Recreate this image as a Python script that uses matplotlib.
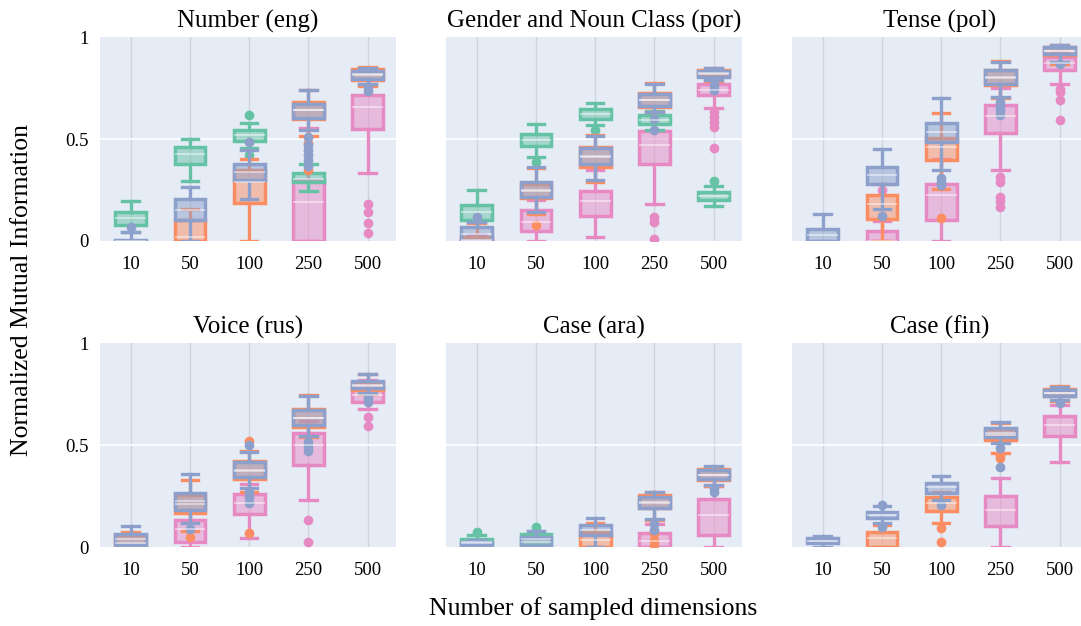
import matplotlib
matplotlib.use("Agg")
import matplotlib.pyplot as plt

plt.rcParams['font.family'] = ['Liberation Serif', 'DejaVu Serif']

CATEGORIES = ["10", "50", "100", "250", "500"]
TITLES = ["Number (eng)", "Gender and Noun Class (por)", "Tense (pol)",
          "Voice (rus)", "Case (ara)", "Case (fin)"]
YTICKS = [0, 0.5, 1]
YTICKLABELS = ["0", "0.5", "1"]

GREEN, ORANGE, BLUE, PINK = "#66c2a5", "#fc8d62", "#8da0cb", "#e78ac3"

# each entry: (whisker_low, q1, median, q3, whisker_high, outliers) or None
ENG_GREEN = [(0.045, 0.077, 0.113, 0.142, 0.196, []),
             (0.294, 0.379, 0.425, 0.461, 0.498, []),
             (0.455, 0.49, 0.518, 0.546, 0.578, [0.616, 0.42]),
             (0.245, 0.29, 0.305, 0.333, 0.379, []),
             None]
ENG_ORANGE = [None,
              (0.0, 0.0, 0.02, 0.105, 0.158, []),
              (0.0, 0.186, 0.29, 0.346, 0.40, []),
              (0.516, 0.598, 0.64, 0.68, 0.74, [0.48, 0.346]),
              (0.76, 0.788, 0.82, 0.845, 0.855, [])]
ENG_BLUE = [(0.0, 0.0, 0.0, 0.005, 0.045, [0.07]),
            (0.0, 0.105, 0.154, 0.204, 0.265, []),
            (0.204, 0.297, 0.338, 0.376, 0.444, [0.485]),
            (0.546, 0.605, 0.64, 0.673, 0.739, [0.51, 0.47, 0.444, 0.42, 0.395, 0.37]),
            (0.771, 0.796, 0.815, 0.833, 0.85, [0.755, 0.735])]
ENG_PINK = [None, None, None,
            (0.0, 0.0, 0.19, 0.30, 0.555, []),
            (0.333, 0.547, 0.657, 0.714, 0.77, [0.183, 0.142, 0.088, 0.041])]

POR_GREEN = [(0.093, 0.105, 0.142, 0.175, 0.248, []),
             (0.412, 0.466, 0.494, 0.523, 0.575, [0.387]),
             (0.567, 0.596, 0.624, 0.645, 0.676, [0.542]),
             (0.546, 0.572, 0.595, 0.616, 0.637, []),
             (0.172, 0.2, 0.221, 0.24, 0.268, [0.292])]
POR_ORANGE = [(0.0, 0.0, 0.005, 0.02, 0.09, []),
              (0.13, 0.21, 0.245, 0.28, 0.36, [0.077]),
              (0.289, 0.363, 0.41, 0.46, 0.52, []),
              (0.63, 0.657, 0.69, 0.725, 0.775, []),
              (0.785, 0.81, 0.822, 0.838, 0.85, [])]
POR_BLUE = [(0.0, 0.0, 0.036, 0.069, 0.093, [0.118]),
            (0.142, 0.216, 0.252, 0.289, 0.363, []),
            (0.297, 0.376, 0.415, 0.456, 0.513, []),
            (0.632, 0.66, 0.693, 0.722, 0.771, [0.6, 0.542]),
            (0.788, 0.804, 0.82, 0.833, 0.85, [0.763, 0.74])]
POR_PINK = [(0.0, 0.0, 0.0, 0.01, 0.03, []),
            (0.0, 0.049, 0.093, 0.150, 0.2, []),
            (0.02, 0.121, 0.196, 0.245, 0.35, []),
            (0.183, 0.376, 0.472, 0.538, 0.62, [0.118, 0.093, 0.011]),
            (0.654, 0.714, 0.742, 0.771, 0.8, [0.632, 0.608, 0.583, 0.559, 0.458])]

POL_GREEN = [None, None, None, None, None]
POL_ORANGE = [None,
              (0.0, 0.109, 0.183, 0.224, 0.28, []),
              (0.256, 0.399, 0.461, 0.507, 0.627, [0.113]),
              (0.7, 0.766, 0.80, 0.84, 0.88, []),
              (0.87, 0.91, 0.93, 0.95, 0.96, [])]
POL_BLUE = [(0.0, 0.0, 0.028, 0.057, 0.134, []),
            (0.158, 0.281, 0.322, 0.363, 0.449, [0.121]),
            (0.346, 0.485, 0.534, 0.58, 0.701, [0.31, 0.289, 0.273]),
            (0.706, 0.771, 0.804, 0.837, 0.877, [0.68, 0.66, 0.64, 0.62]),
            (0.877, 0.915, 0.931, 0.951, 0.959, [0.87])]
POL_PINK = [None,
            (0.0, 0.0, 0.0, 0.049, 0.1, [0.248]),
            (0.0, 0.101, 0.224, 0.278, 0.4, []),
            (0.346, 0.529, 0.611, 0.665, 0.75, [0.314, 0.289, 0.216, 0.196, 0.167]),
            (0.771, 0.84, 0.874, 0.902, 0.93, [0.747, 0.73, 0.69, 0.592])]

RUS_GREEN = [None, None, None, None, None]
RUS_ORANGE = [(0.0, 0.0, 0.02, 0.06, 0.075, []),
              (0.08, 0.165, 0.21, 0.255, 0.328, [0.047]),
              (0.27, 0.332, 0.375, 0.42, 0.47, [0.521, 0.067]),
              (0.54, 0.59, 0.63, 0.675, 0.745, []),
              (0.75, 0.77, 0.79, 0.81, 0.85, [])]
RUS_BLUE = [(0.0, 0.01, 0.038, 0.064, 0.103, []),
            (0.116, 0.181, 0.227, 0.263, 0.358, [0.088]),
            (0.288, 0.345, 0.377, 0.415, 0.464, [0.5, 0.271, 0.247, 0.217]),
            (0.544, 0.598, 0.631, 0.672, 0.742, [0.516, 0.49, 0.47]),
            (0.753, 0.778, 0.794, 0.814, 0.848, [0.729, 0.712])]
RUS_PINK = [None,
            (0.0, 0.026, 0.087, 0.132, 0.18, []),
            (0.042, 0.16, 0.214, 0.258, 0.31, []),
            (0.23, 0.402, 0.5, 0.557, 0.62, [0.132, 0.026]),
            (0.676, 0.712, 0.745, 0.786, 0.82, [0.639, 0.593])]

ARA_GREEN = [(0.0, 0.015, 0.025, 0.039, 0.059, [0.075]),
             (0.0, 0.01, 0.04, 0.064, 0.08, [0.1]),
             None, None, None]
ARA_ORANGE = [None, None,
              (0.0, 0.0, 0.034, 0.075, 0.12, []),
              (0.13, 0.19, 0.22, 0.255, 0.27, [0.067, 0.034, 0.01]),
              (0.3, 0.33, 0.355, 0.38, 0.39, [])]
ARA_BLUE = [(0.0, 0.01, 0.018, 0.026, 0.035, []),
            (0.0, 0.005, 0.026, 0.05, 0.08, []),
            (0.0, 0.059, 0.083, 0.108, 0.14, []),
            (0.136, 0.19, 0.214, 0.247, 0.268, [0.113, 0.083]),
            (0.304, 0.333, 0.353, 0.377, 0.399, [0.288, 0.27])]
ARA_PINK = [None, None, None,
            (0.0, 0.0, 0.03, 0.07, 0.113, []),
            (0.0, 0.059, 0.157, 0.234, 0.3, [])]

FIN_GREEN = [None, None, None, None, None]
FIN_ORANGE = [None,
              (0.0, 0.0, 0.042, 0.075, 0.11, []),
              (0.116, 0.176, 0.217, 0.247, 0.27, [0.092, 0.026]),
              (0.46, 0.525, 0.55, 0.58, 0.61, [0.45, 0.435]),
              (0.715, 0.74, 0.755, 0.775, 0.79, [])]
FIN_BLUE = [(0.0, 0.018, 0.031, 0.042, 0.054, []),
            (0.119, 0.141, 0.157, 0.173, 0.203, [0.206, 0.1]),
            (0.23, 0.266, 0.293, 0.315, 0.35, [0.206]),
            (0.508, 0.538, 0.557, 0.582, 0.614, [0.484, 0.394]),
            (0.72, 0.74, 0.753, 0.77, 0.786, [0.704])]
FIN_PINK = [None, None, None,
            (0.0, 0.103, 0.181, 0.25, 0.337, []),
            (0.418, 0.544, 0.598, 0.642, 0.696, [])]

PANELS = [
    {"pink": ENG_PINK, "green": ENG_GREEN, "orange": ENG_ORANGE, "blue": ENG_BLUE},
    {"pink": POR_PINK, "green": POR_GREEN, "orange": POR_ORANGE, "blue": POR_BLUE},
    {"pink": POL_PINK, "green": POL_GREEN, "orange": POL_ORANGE, "blue": POL_BLUE},
    {"pink": RUS_PINK, "green": RUS_GREEN, "orange": RUS_ORANGE, "blue": RUS_BLUE},
    {"pink": ARA_PINK, "green": ARA_GREEN, "orange": ARA_ORANGE, "blue": ARA_BLUE},
    {"pink": FIN_PINK, "green": FIN_GREEN, "orange": FIN_ORANGE, "blue": FIN_BLUE},
]
COLORS = {"pink": PINK, "green": GREEN, "orange": ORANGE, "blue": BLUE}
ORDER = ["pink", "green", "orange", "blue"]

W, H = 1081, 626
fig = plt.figure(figsize=(W / 100, H / 100), dpi=100)

lefts = [100, 446, 792]
tops = [37, 343]
pw, ph = 296, 204

BG = "#e5ecf6"

for idx, panel in enumerate(PANELS):
    r, c = divmod(idx, 3)
    ax = fig.add_axes([lefts[c] / W, (H - tops[r] - ph) / H, pw / W, ph / H])
    ax.set_facecolor(BG)
    for s in ax.spines.values():
        s.set_visible(False)
    ax.set_xlim(-0.52, 4.48)
    ax.set_ylim(0, 1)
    # grid
    for xi in range(len(CATEGORIES)):
        ax.axvline(xi, color="#d0d3d9", lw=1.0, zorder=0.5)
    ax.axhline(0.5, color="white", lw=1.2, zorder=0.5)

    for key in ORDER:
        col = COLORS[key]
        stats, pos = [], []
        for i, v in enumerate(panel[key]):
            if v is None:
                continue
            wl, q1, med, q3, wh, fl = v
            stats.append(dict(whislo=wl, q1=q1, med=med, q3=q3, whishi=wh, fliers=fl))
            pos.append(i)
        if not stats:
            continue
        ax.bxp(stats, positions=pos, widths=0.52, patch_artist=True,
               capwidths=0.28, manage_ticks=False,
               boxprops=dict(facecolor=(*matplotlib.colors.to_rgb(col), 0.5),
                             edgecolor=col, linewidth=2.5),
               whiskerprops=dict(color=col, linewidth=2.4),
               capprops=dict(color=col, linewidth=2.4),
               medianprops=dict(color="white", alpha=0.5, linewidth=1.3),
               flierprops=dict(marker="o", markerfacecolor=col, markeredgecolor="none",
                               markersize=7))

    ax.set_xticks(range(len(CATEGORIES)))
    ax.set_xticklabels(CATEGORIES)
    ax.tick_params(axis="x", length=0, labelsize=13.5, colors="black", pad=11)
    ax.tick_params(axis="y", length=0, labelsize=13.5, colors="black", pad=8)
    ax.set_yticks(YTICKS)
    if c == 0:
        ax.set_yticklabels(YTICKLABELS)
    else:
        ax.set_yticklabels([])
    ax.grid(False)
    ax.set_title(TITLES[idx], fontsize=18, pad=7)

fig.text(22 / W, 1 - 290 / H, "Normalized Mutual Information", rotation=90,
         ha="center", va="center", fontsize=18.5)
fig.text(593 / W, 1 - 609 / H, "Number of sampled dimensions",
         ha="center", va="center", fontsize=18.5)

fig.savefig("out.png", dpi=100)
